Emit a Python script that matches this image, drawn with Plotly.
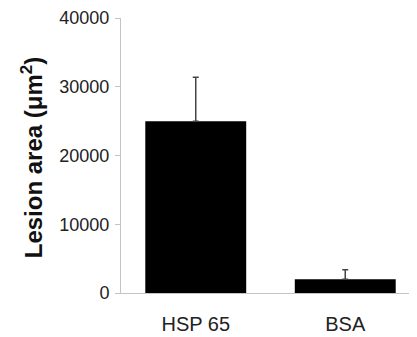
import plotly.graph_objects as go

categories = ["HSP 65", "BSA"]
lesion_area = [25000, 2000]
lesion_err = [6400, 1400]
y_ticks = [0, 10000, 20000, 30000, 40000]
y_tick_labels = ["0", "10000", "20000", "30000", "40000"]

FONT = "Arial, Liberation Sans, sans-serif"
# page body adds an ~8px offset, so the figure is sized to fit in the rest
OFF = 8
W, H = 417 - OFF, 337 - OFF
L, R, T = 121 - OFF, 0, 15 - OFF
B = H - T - 278

fig = go.Figure()
fig.add_trace(go.Bar(
    x=categories, y=lesion_area,
    width=0.675,
    marker=dict(color="#000000", line=dict(color="#000000", width=0)),
    error_y=dict(type="data", array=lesion_err, symmetric=False,
                 arrayminus=[0, 0], color="#444444", thickness=1.5, width=3),
))

fig.update_layout(
    width=W, height=H,
    margin=dict(l=L, r=R, t=T, b=B, pad=0),
    paper_bgcolor="white", plot_bgcolor="white",
    showlegend=False,
    font=dict(family=FONT, color="#222222"),
    xaxis=dict(
        range=[-0.5, 1.48],
        showline=True, linecolor="#c4c4c4", linewidth=1,
        ticks="", showgrid=False, zeroline=False,
        tickfont=dict(size=20, color="#222222"),
        ticklabelstandoff=13,
        ticklabeloverflow="allow",
    ),
    yaxis=dict(
        range=[0, 40000],
        tickvals=y_ticks, ticktext=y_tick_labels,
        showline=True, linecolor="#c4c4c4", linewidth=1,
        ticks="outside", ticklen=5, tickcolor="#c4c4c4", tickwidth=1,
        showgrid=False, zeroline=False,
        tickfont=dict(size=18, color="#222222"),
        ticklabelstandoff=2,
        ticklabeloverflow="allow",
    ),
    annotations=[dict(
        text="<b>Lesion area (μm<sup>2</sup>)</b>",
        xref="paper", yref="paper",
        x=(32 - 121) / 296, y=0.49,
        xanchor="center", yanchor="middle",
        textangle=-90, showarrow=False,
        font=dict(size=24, color="#111111", family=FONT),
    )],
)

fig.write_html("out.html")
